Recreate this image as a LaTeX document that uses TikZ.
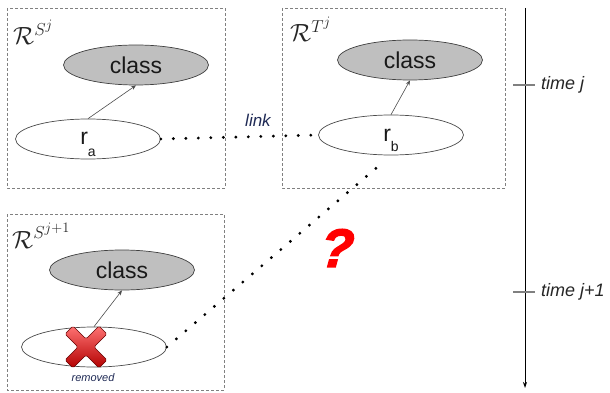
\documentclass[tikz,border=0pt]{standalone}
\usepackage{fontspec}
\setmainfont{Liberation Sans}
\newfontfamily\heavyfont[FakeBold=2.5,FakeSlant=0.08]{Liberation Sans Bold Italic}
\usetikzlibrary{arrows.meta,calc,shapes.geometric}

\definecolor{navytext}{HTML}{1F2A55}
\definecolor{framegray}{HTML}{808080}

\tikzset{
  frame/.style={draw=framegray, dash pattern=on 3pt off 2pt, line width=0.8pt},
  classnode/.style={ellipse, draw=black!75, fill=black!25, line width=0.7pt,
    minimum width=145pt, minimum height=40pt, inner sep=0pt,
    font=\fontsize{23}{23}\selectfont, text=black!90},
  recnode/.style={ellipse, draw=black!70, fill=white, line width=0.7pt,
    minimum width=145pt, minimum height=40pt, inner sep=0pt},
  reclabel/.style={anchor=base, inner sep=0pt, font=\fontsize{23}{23}\selectfont, text=black!90},
  setlabel/.style={anchor=base west, inner sep=0pt, font=\fontsize{27}{27}\selectfont, text=black!85},
  isa/.style={-{Stealth[length=5pt,width=4pt]}, draw=black!70, line width=0.6pt},
  linkdots/.style={line width=3.2pt, dash pattern=on 0pt off 12.5pt, line cap=round},
  timelabel/.style={anchor=west, inner sep=0pt, font=\fontsize{18}{18}\selectfont\itshape, text=black!85},
}

\begin{document}
\begin{tikzpicture}[x=1pt,y=-1pt]
\useasboundingbox (0,0) rectangle (610,393);

% dashed frames of the three record sets
\draw[frame] (7,8) rectangle (225,188);
\draw[frame] (282,8) rectangle (505,188);
\draw[frame] (7,214) rectangle (224,390);

\node[setlabel] (lsj)  at (13,45)  {$\mathcal{R}^{S^j}$};
\node[setlabel] (ltj)  at (290,42) {$\mathcal{R}^{T^j}$};
\node[setlabel] (lsj1) at (12,248) {$\mathcal{R}^{S^{j+1}}$};

% class and record ellipses
\node[classnode] (class1) at (136,65)  {class};
\node[recnode]   (ra)     at (88,139)  {};
\node[classnode] (class2) at (410,60)  {class};
\node[recnode]   (rb)     at (391,135) {};
\node[classnode] (class3) at (122,270) {class};
\node[recnode]   (rem)    at (94,347)  {};

\node[reclabel] (ratext) at ($(ra.center)+(0,6)$) {r\raisebox{-11pt}{\fontsize{14}{14}\selectfont a}};
\node[reclabel] (rbtext) at ($(rb.center)+(0,6)$) {r\raisebox{-10pt}{\fontsize{14}{14}\selectfont b}};

\draw[isa] (ra.north) -- (class1.south);
\draw[isa] (rb.north) -- (class2.south);
\draw[isa] (rem.north) -- (class3.south);

% links between records
\draw[linkdots] (ra.east) -- (rb.west);
\node[anchor=base, inner sep=0pt, font=\fontsize{17}{17}\selectfont\itshape, text=navytext] (linktext) at (258,127) {link};
\draw[linkdots, shorten >=10pt] (rem.east) -- (rb.south);

% removed record marker
\shadedraw[shift={(86,347)}, top color=red!55!white, bottom color=red!70!black,
  draw=red!40!black, line width=0.6pt, rounded corners=1.5pt]
  (-13,-21) -- (0,-8) -- (13,-21) -- (21,-13) -- (8,0) -- (21,13) -- (13,21)
  -- (0,8) -- (-13,21) -- (-21,13) -- (-8,0) -- (-21,-13) -- cycle;
\node[inner sep=0pt, font=\fontsize{11}{11}\selectfont\itshape, text=navytext] (remtext) at (93,378) {removed};

% question mark
\node[inner sep=0pt, font=\fontsize{54}{54}\heavyfont, text=red] (qmark) at (336,248) {?};

% time axis
\coordinate (ttop) at (525,8);
\coordinate (tbot) at (525,388);
\draw[-{Stealth[length=6pt,width=4pt]}, line width=0.8pt] (ttop) -- (tbot);
\coordinate (t1l) at (513,85);
\coordinate (t1r) at (535,85);
\coordinate (t2l) at (513,292);
\coordinate (t2r) at (535,292);
\draw[framegray, line width=1.2pt] (t1l) -- (t1r);
\draw[framegray, line width=1.2pt] (t2l) -- (t2r);
\node[timelabel] (tj)  at (541,85)  {time j};
\node[timelabel] (tj1) at (541,292) {time j+1};
\end{tikzpicture}
\end{document}
